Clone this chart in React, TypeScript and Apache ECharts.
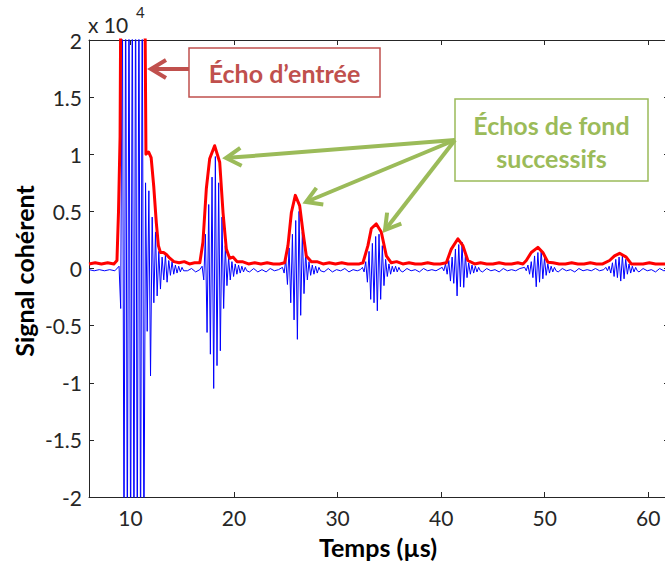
import { useEffect, useRef } from 'react';
import * as echarts from 'echarts';

// ---- axes ----
const xMin = 6;
const xMax = 62;
const xTicks = [10, 20, 30, 40, 50, 60];
const yMin = -2;
const yMax = 2;
const yInterval = 0.5;

// ---- blue trace (coherent signal, ×10^4): extrema ----
const timeStep = 0.16; // µs between successive extrema
const echoStarts = [8.9, 16.92, 24.68, 32.4, 40.1, 48.06, 55.9];
const echo1 = [0.02, -0.35, 2.6, -2.6, 2.6, -2.6, 2.6, -2.6, 2.6, -2.6, 2.6, -2.6, 2.6, -2.6, 2.6, -2.6,
  0.75, -0.55, 0.68, -0.94, 0.45, -0.3, 0.32, -0.24, 0.15, -0.18, 0.1, -0.1, 0.12, -0.12, 0.07, -0.06,
  0.06, -0.05, 0.03, -0.04, 0.02, -0.03, 0.01, -0.02];
const echo2 = [0.02, -0.1, 0.3, -0.56, 0.56, -0.75, 0.8, -1.05, 0.98, -0.85, 0.75, -0.72, 0.45, -0.35,
  0.2, -0.15, 0.1, -0.1, 0.06, -0.07, 0.04, -0.05, 0.03, -0.04, 0.02, -0.03, 0.01, -0.02];
const echo3 = [0.01, -0.04, 0.08, -0.14, 0.18, -0.3, 0.3, -0.45, 0.42, -0.62, 0.5, -0.41, 0.32, -0.22,
  0.14, -0.1, 0.06, -0.06, 0.03, -0.05, 0.02, -0.04, 0.01, -0.02];
const echo4 = [0.01, -0.03, 0.06, -0.12, 0.15, -0.27, 0.22, -0.3, 0.28, -0.37, 0.3, -0.27, 0.2, -0.15,
  0.08, -0.07, 0.04, -0.05, 0.02, -0.03, 0.02, -0.03, 0.01, -0.02];
const echo5 = [0.01, -0.02, 0.04, -0.05, 0.07, -0.11, 0.1, -0.13, 0.17, -0.24, 0.21, -0.16, 0.23, -0.165,
  0.12, -0.08, 0.05, -0.05, 0.03, -0.04, 0.02, -0.03, 0.01, -0.02];
const echo6 = [0.01, -0.02, 0.03, -0.05, 0.06, -0.08, 0.11, -0.16, 0.14, -0.12, 0.16, -0.09, 0.09, -0.06,
  0.04, -0.04, 0.02, -0.03, 0.01, -0.02];
const echo7 = [0.01, -0.02, 0.02, -0.04, 0.05, -0.07, 0.08, -0.08, 0.1, -0.11, 0.11, -0.09, 0.08, -0.05,
  0.04, -0.04, 0.02, -0.03, 0.01, -0.02];
const echoValues = [echo1, echo2, echo3, echo4, echo5, echo6, echo7];

// small noise of the blue trace between echoes
const noiseT = [6.0, 6.5, 7.0, 7.5, 8.0, 8.5,
  15.5, 15.9, 16.3, 16.7,
  21.5, 21.9, 22.3, 22.7, 23.1, 23.5, 23.9, 24.3,
  28.7, 29.1, 29.5, 29.9, 30.3, 30.7, 31.1, 31.5, 31.9, 32.2,
  36.3, 36.7, 37.1, 37.5, 37.9, 38.3, 38.7, 39.1, 39.5, 39.9,
  44.0, 44.4, 44.8, 45.2, 45.6, 46.0, 46.4, 46.8, 47.2, 47.6,
  51.3, 51.7, 52.1, 52.5, 52.9, 53.3, 53.7, 54.1, 54.5, 54.9, 55.3, 55.7,
  59.1, 59.5, 59.9, 60.3, 60.7, 61.1, 61.5, 62.0];
const noiseV = [-0.01, -0.02, -0.01, -0.02, -0.01, -0.02,
  -0.02, 0.0, -0.03, -0.01,
  -0.03, 0.0, -0.03, -0.01, -0.03, 0.0, -0.02, -0.01,
  -0.03, 0.0, -0.03, -0.01, -0.02, 0.0, -0.03, -0.01, -0.02, -0.01,
  -0.03, 0.0, -0.02, -0.01, -0.03, 0.0, -0.02, -0.01, -0.02, 0.0,
  -0.03, 0.0, -0.02, -0.01, -0.03, 0.0, -0.02, -0.01, -0.02, 0.0,
  -0.03, 0.0, -0.02, -0.01, -0.03, 0.0, -0.02, -0.01, -0.02, 0.0, -0.02, -0.01,
  -0.03, 0.0, -0.02, -0.01, -0.03, 0.0, -0.02, -0.01];

// ---- red trace: envelope ----
const envT = [6.0, 6.6, 7.2, 7.8, 8.4, 8.7, 8.85, 9.0, 9.08, 11.38, 11.5, 11.75, 12.0, 12.25, 12.5, 12.7,
  12.9, 13.2, 13.5, 13.8, 14.2, 14.7, 15.2, 15.7, 16.2, 16.7, 17.0, 17.33, 17.65, 18.13, 18.62, 18.94,
  19.26, 19.58, 19.9, 20.3, 20.8, 21.4, 22.0, 22.6, 23.2, 23.8, 24.4, 24.89, 25.21, 25.54, 25.92, 26.34,
  26.66, 26.98, 27.47, 28.0, 28.6, 29.2, 29.8, 30.4, 31.0, 31.6, 32.1, 32.45, 32.93, 33.26, 33.74, 34.22,
  34.71, 35.19, 35.7, 36.3, 36.9, 37.5, 38.1, 38.7, 39.3, 39.9, 40.5, 40.98, 41.62, 42.1, 42.58, 43.23,
  43.8, 44.4, 45.0, 45.6, 46.2, 46.8, 47.4, 47.9, 48.22, 48.7, 49.34, 49.82, 50.31, 50.8, 51.4, 52.0,
  52.6, 53.2, 53.8, 54.4, 55.0, 55.6, 56.26, 56.74, 57.23, 57.87, 58.36, 58.9, 59.5, 60.1, 60.7, 61.3, 62.0];
const envV = [0.04, 0.05, 0.04, 0.05, 0.04, 0.07, 0.5, 1.15, 2.6, 2.6, 1.0, 1.02, 0.97, 0.72, 0.4, 0.2,
  0.14, 0.14, 0.12, 0.09, 0.06, 0.05, 0.06, 0.04, 0.05, 0.05, 0.23, 0.7, 0.96, 1.075, 0.93, 0.49,
  0.17, 0.09, 0.1, 0.06, 0.06, 0.04, 0.05, 0.04, 0.05, 0.04, 0.04, 0.05, 0.2, 0.49, 0.64, 0.55,
  0.32, 0.11, 0.06, 0.06, 0.04, 0.05, 0.04, 0.05, 0.04, 0.04, 0.04, 0.05, 0.2, 0.35, 0.39, 0.32,
  0.11, 0.05, 0.06, 0.04, 0.05, 0.04, 0.04, 0.05, 0.04, 0.04, 0.05, 0.17, 0.26, 0.2, 0.07, 0.04,
  0.05, 0.04, 0.04, 0.05, 0.04, 0.04, 0.05, 0.04, 0.07, 0.14, 0.185, 0.14, 0.055, 0.05, 0.04, 0.04,
  0.05, 0.04, 0.04, 0.05, 0.04, 0.04, 0.07, 0.11, 0.133, 0.1, 0.04, 0.04, 0.04, 0.05, 0.04, 0.04, 0.04];

const RED_NOTE = '#c0504d';
const GREEN_NOTE = '#9bbb59';
const AXIS_COLOR = '#262626';
const FONT = 'Lato, "Noto Sans", sans-serif';

function arrow(x0: number, y0: number, x1: number, y1: number, color: string) {
  const dx = x1 - x0;
  const dy = y1 - y0;
  const len = Math.hypot(dx, dy);
  const ux = dx / len;
  const uy = dy / len;
  const L = 15;
  const W = 9;
  const bx = x1 - ux * L;
  const by = y1 - uy * L;
  return [
    { type: 'line', shape: { x1: x0, y1: y0, x2: x1 - ux * 2, y2: y1 - uy * 2 }, style: { stroke: color, lineWidth: 4 }, z: 100 },
    {
      type: 'polyline',
      shape: { points: [[bx - uy * W, by + ux * W], [x1, y1], [bx + uy * W, by - ux * W]] },
      style: { stroke: color, lineWidth: 4, fill: 'none', lineJoin: 'miter', lineCap: 'butt' },
      z: 100,
    },
  ];
}

export default function App() {
  const ref = useRef<HTMLDivElement>(null);
  useEffect(() => {
    const chart = echarts.init(ref.current!, null, { renderer: 'svg' });

    const blue: [number, number][] = [];
    echoStarts.forEach((s, k) => {
      echoValues[k].forEach((v, i) => blue.push([Math.round((s + i * timeStep) * 100) / 100, v]));
    });
    noiseT.forEach((t, i) => blue.push([t, noiseV[i]]));
    blue.sort((a, b) => a[0] - b[0]);
    const red = envT.map((t, i) => [t, envV[i]]);

    const axisLine = { show: true, onZero: false, lineStyle: { color: AXIS_COLOR, width: 1 } };
    const tickStyle = { color: AXIS_COLOR, width: 1 };

    chart.setOption({
      animation: false,
      backgroundColor: '#ffffff',
      grid: { left: 89, top: 40, width: 580, height: 457 },
      xAxis: [
        {
          type: 'value', min: xMin, max: xMax, position: 'bottom',
          axisLine, splitLine: { show: false },
          axisTick: { inside: true, length: 5, customValues: xTicks, lineStyle: tickStyle },
          axisLabel: { customValues: xTicks, color: AXIS_COLOR, fontSize: 21, fontFamily: FONT, margin: 10 },
        },
        {
          type: 'value', min: xMin, max: xMax, position: 'top',
          axisLine, splitLine: { show: false },
          axisTick: { inside: true, length: 5, customValues: xTicks, lineStyle: tickStyle },
          axisLabel: { show: false },
        },
      ],
      yAxis: [
        {
          type: 'value', min: yMin, max: yMax, interval: yInterval, position: 'left',
          axisLine, splitLine: { show: false },
          axisTick: { inside: true, length: 5, lineStyle: tickStyle },
          axisLabel: { color: AXIS_COLOR, fontSize: 21, fontFamily: FONT, margin: 7 },
        },
        {
          type: 'value', min: yMin, max: yMax, interval: yInterval, position: 'right',
          axisLine, splitLine: { show: false },
          axisTick: { inside: true, length: 5, lineStyle: tickStyle },
          axisLabel: { show: false },
        },
      ],
      series: [
        {
          name: 'Signal', type: 'line', data: blue, showSymbol: false, clip: true,
          lineStyle: { color: '#0000ff', width: 1 }, z: 2,
        },
        {
          name: 'Enveloppe', type: 'line', data: red, showSymbol: false, clip: true,
          lineStyle: { color: '#ff0000', width: 3, join: 'round' }, z: 3,
        },
      ],
      graphic: [
        { type: 'text', x: 88, y: 24, style: { text: 'x 10', font: `21px ${FONT}`, fill: AXIS_COLOR, verticalAlign: 'middle' } },
        { type: 'text', x: 136, y: 12, style: { text: '4', font: `15px ${FONT}`, fill: AXIS_COLOR, verticalAlign: 'middle' } },
        {
          type: 'text', x: 24, y: 271, rotation: Math.PI / 2,
          style: { text: 'Signal cohérent', font: `bold 25px ${FONT}`, fill: '#000', align: 'center', verticalAlign: 'middle' },
        },
        {
          type: 'text', x: 378, y: 547,
          style: { text: 'Temps (µs)', font: `bold 25px ${FONT}`, fill: '#000', align: 'center', verticalAlign: 'middle' },
        },
        { type: 'rect', shape: { x: 189, y: 48, width: 191, height: 49 }, style: { fill: '#fff', stroke: RED_NOTE, lineWidth: 1.5 }, z: 100 },
        {
          type: 'text', x: 284.5, y: 73, z: 101,
          style: { text: 'Écho d’entrée', font: `bold 25px ${FONT}`, fill: RED_NOTE, align: 'center', verticalAlign: 'middle' },
        },
        ...arrow(189, 69, 151, 69, RED_NOTE),
        { type: 'rect', shape: { x: 455, y: 99, width: 193, height: 82 }, style: { fill: '#fff', stroke: GREEN_NOTE, lineWidth: 1.5 }, z: 100 },
        {
          type: 'text', x: 551.5, y: 125, z: 101,
          style: { text: 'Échos de fond', font: `bold 25px ${FONT}`, fill: GREEN_NOTE, align: 'center', verticalAlign: 'middle' },
        },
        {
          type: 'text', x: 551.5, y: 158, z: 101,
          style: { text: 'successifs', font: `bold 25px ${FONT}`, fill: GREEN_NOTE, align: 'center', verticalAlign: 'middle' },
        },
        ...arrow(455, 140, 226, 158, GREEN_NOTE),
        ...arrow(455, 140, 306, 202, GREEN_NOTE),
        ...arrow(455, 140, 385, 230, GREEN_NOTE),
      ],
    });
    return () => chart.dispose();
  }, []);
  return (
    <div style={{ position: 'fixed', left: 0, top: 0, width: 665, height: 562, overflow: 'hidden', background: '#fff' }}>
      <div ref={ref} style={{ width: 672, height: 562 }} />
    </div>
  );
}
